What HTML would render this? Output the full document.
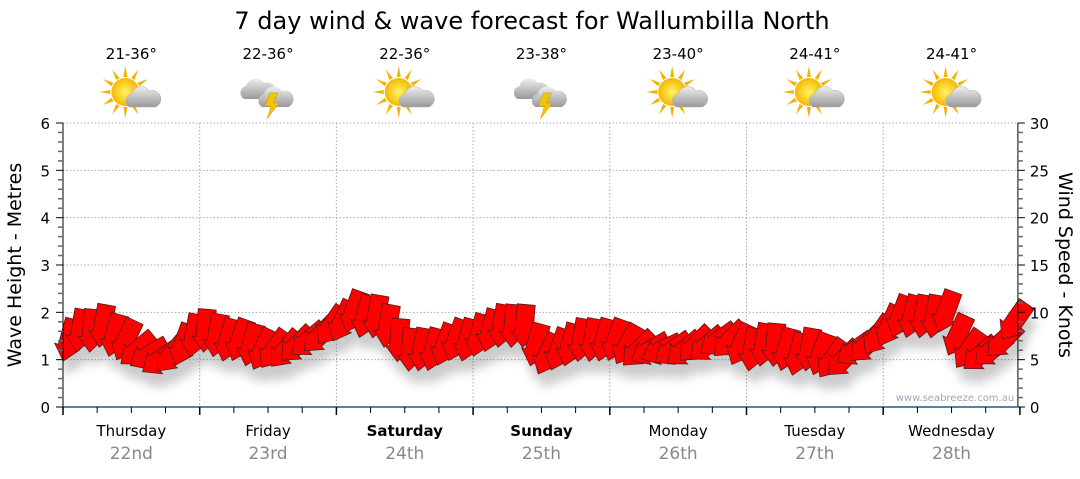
<!DOCTYPE html>
<html><head><meta charset="utf-8"><style>
body{margin:0;background:#fff;font-family:"DejaVu Sans","Liberation Sans",sans-serif}
svg text{font-family:"DejaVu Sans","Liberation Sans",sans-serif}
</style></head><body>
<svg id="chart" width="1080" height="475" viewBox="0 0 1080 475" xmlns="http://www.w3.org/2000/svg">
<defs>
<filter id="sh" x="-50%" y="-50%" width="200%" height="200%"><feGaussianBlur stdDeviation="5"/></filter>
<radialGradient id="sun" cx="50%" cy="50%" r="50%"><stop offset="0" stop-color="#fff36a"/><stop offset="1" stop-color="#f5b800"/></radialGradient>
<linearGradient id="cloud" x1="0" y1="0" x2="0" y2="1"><stop offset="0" stop-color="#eee"/><stop offset="1" stop-color="#999"/></linearGradient>
</defs>
<text x="532" y="29" font-size="24" text-anchor="middle" fill="#000">7 day wind &amp; wave forecast for Wallumbilla North</text>
<g id="grid"></g>
<g id="shadows" filter="url(#sh)" opacity="0.3"></g>
<g id="arrows"></g>
<g id="axes"></g>
<g id="icons"></g>
<text x="955" y="401" font-size="10" fill="#9aa8bd" text-anchor="middle">www.seabreeze.com.au</text>
<text transform="translate(21,265) rotate(-90)" font-size="19" text-anchor="middle">Wave Height - Metres</text>
<text transform="translate(1059,265) rotate(90)" font-size="19" text-anchor="middle">Wind Speed - Knots</text>
</svg>
<script>
const days=["Thursday","Friday","Saturday","Sunday","Monday","Tuesday","Wednesday"];
const dates=["22nd","23rd","24th","25th","26th","27th","28th"];
const boldDays=[false,false,true,true,false,false,false];
const temps=["21-36°","22-36°","22-36°","23-38°","23-40°","24-41°","24-41°"];
const iconTypes=["sun","storm","sun","storm","sun","sun","sun"];
const waveTicks=[0,1,2,3,4,5,6];
const windTicks=[0,5,10,15,20,25,30];
// wind speed (knots) every 2 hours
const windSpeed=[7,8,8,8.5,7.5,7,6,5.5,5,5.5,6.5,7.5,
 8,7.5,7,7,6.5,6,6,6,6.5,7,7.5,8.5,
 9,10,9.5,9.5,8.5,7,6,6,6,6.5,7,7,
 7.5,8,8.5,8.5,8.5,6.5,5.5,6,6.5,7,7,7,
 7,6.5,6,6,6,6,6,6.5,6.5,7,7,6.5,
 6,6.5,6.5,6,5.5,6,5.5,5,5,6,6.5,7.5,
 8.5,9.5,9.5,9.5,9.5,10,7.5,6,5.5,6,7,9];
// arrow rotation (deg, 0 = pointing down, + = toward left)
const windDir=[15,10,5,10,15,25,50,60,55,40,20,10,
 5,10,15,20,15,25,35,40,45,50,45,35,
 25,20,15,10,10,5,5,10,15,20,20,15,
 15,15,10,5,5,15,25,20,15,10,10,15,
 20,30,45,60,65,55,50,45,50,55,45,25,
 10,10,5,15,15,10,20,35,45,55,45,35,
 25,20,15,10,10,20,25,35,50,50,45,35];
const ns="http://www.w3.org/2000/svg";
const X0=63,DW=136.7,Y0=407,YT=123;
const xDay=d=>X0+d*DW;
const xHour=h=>X0+h/24*DW;
const yWave=v=>Y0-(Y0-YT)*v/6;
const yWind=v=>Y0-(Y0-YT)*v/30;
function mk(tag,attrs,parent){const e=document.createElementNS(ns,tag);for(const k in attrs)e.setAttribute(k,attrs[k]);parent.appendChild(e);return e;}
const grid=document.getElementById('grid'),axes=document.getElementById('axes');
const xEnd=xDay(7)-2;
waveTicks.forEach((v,i)=>{if(v===0)return;const l=mk('line',{x1:X0,x2:xEnd,y1:yWave(v),y2:yWave(v),stroke:'#aaa','stroke-dasharray':'1.5,2'},grid);

});
for(let d=1;d<7;d++){const l=mk('line',{x1:xDay(d),x2:xDay(d),y1:YT,y2:Y0,stroke:'#aaa','stroke-dasharray':'1.5,2'},grid);

}
mk('line',{x1:X0,x2:X0,y1:YT,y2:Y0,stroke:'#000'},axes);
mk('line',{x1:xEnd,x2:xEnd,y1:YT,y2:Y0,stroke:'#000'},axes);
mk('line',{x1:X0,x2:xEnd,y1:Y0,y2:Y0,stroke:'#1d5a8a','stroke-width':1.5},axes);
waveTicks.forEach(v=>{const t=mk('text',{x:X0-13,y:yWave(v)+6,'font-size':15,'text-anchor':'end'},axes);t.textContent=v;


mk('line',{x1:X0-7,x2:X0,y1:yWave(v),y2:yWave(v),stroke:'#000'},axes);});
for(let i=0;i<30;i++){if(i%5)mk('line',{x1:X0-5,x2:X0,y1:yWave(i*0.2),y2:yWave(i*0.2),stroke:'#666','stroke-width':1.5},axes);}
windTicks.forEach(v=>{const t=mk('text',{x:xEnd+12,y:yWind(v)+6,'font-size':15},axes);t.textContent=v;


mk('line',{x1:xEnd,x2:xEnd+7,y1:yWind(v),y2:yWind(v),stroke:'#000'},axes);});
for(let i=1;i<30;i++){if(i%5)mk('line',{x1:xEnd,x2:xEnd+5,y1:yWind(i),y2:yWind(i),stroke:'#666','stroke-width':1.5},axes);}
for(let h=0;h<=168;h+=6){const big=h%24===0;mk('line',{x1:xHour(h),x2:xHour(h),y1:Y0,y2:Y0+(big?8:6),stroke:'#000','stroke-width':big?1.5:1},axes);}
days.forEach((d,i)=>{const cx=xDay(i)+DW/2;
const t=mk('text',{x:cx,y:436,'font-size':15,'text-anchor':'middle','font-weight':boldDays[i]?'bold':'normal'},axes);t.textContent=d;


const t2=mk('text',{x:cx,y:459,'font-size':17,'text-anchor':'middle',fill:'#888'},axes);t2.textContent=dates[i];


const t3=mk('text',{x:cx,y:59,'font-size':15,'text-anchor':'middle'},axes);t3.textContent=temps[i];

});
// icons
const icons=document.getElementById('icons');
iconTypes.forEach((ty,i)=>{const cx=xDay(i)+DW/2,cy=95;const g=mk('g',{transform:`translate(${cx},${cy})`},icons);


if(ty==='sun'){for(let a=0;a<360;a+=30){mk('polygon',{points:'-2,-15 2,-15 0,-26',fill:'#f3b100',transform:`translate(-6,-3) rotate(${a})`},g);}
mk('circle',{cx:-6,cy:-3,r:14,fill:'url(#sun)'},g);
mk('path',{d:'M-2,12 a7,7 0 0 1 2,-13 a10,10 0 0 1 18,-3 a8,8 0 0 1 6,16 z',fill:'url(#cloud)',stroke:'#aaa','stroke-width':0.5},g);}
else{mk('path',{d:'M-24,4 a7,7 0 0 1 2,-13 a10,10 0 0 1 18,-3 a8,8 0 0 1 6,16 z',fill:'url(#cloud)'},g);
mk('path',{d:'M-6,12 a7,7 0 0 1 2,-13 a10,10 0 0 1 18,-3 a8,8 0 0 1 6,16 z',fill:'url(#cloud)'},g);
mk('polygon',{points:'2,-2 10,-2 5,8 11,8 -1,24 3,11 -3,11',fill:'#f5c400',stroke:'#c90','stroke-width':0.5},g);}});
// arrows
const ar=document.getElementById('arrows'),sh=document.getElementById('shadows');
const shape='M-9,-22 L9,-22 L9,6 L13,6 L0,21 L-13,6 L-9,6 Z';
windSpeed.forEach((v,i)=>{const x=xHour(i*2+1),y=yWind(v);
mk('path',{d:shape,fill:'#555',transform:`translate(${x+4},${y+14}) rotate(${windDir[i]})`},sh);
const p=mk('path',{d:shape,fill:'#ff0000',stroke:'#5a1a1a','stroke-width':0.8,transform:`translate(${x},${y}) rotate(${windDir[i]})`},ar);

});
</script>
</body></html>
